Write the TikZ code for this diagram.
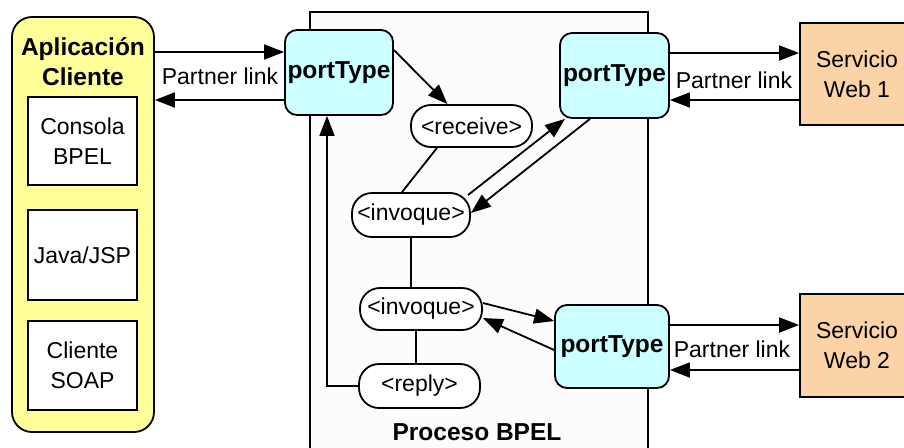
\documentclass[tikz,border=0pt]{standalone}
\usepackage{fontspec}
\setmainfont{Liberation Sans}
\usetikzlibrary{arrows.meta,calc}
\definecolor{appyellow}{RGB}{255,255,153}
\definecolor{ptcyan}{RGB}{204,255,255}
\definecolor{wspeach}{RGB}{250,211,166}
\definecolor{bpelbg}{RGB}{252,252,252}
\tikzset{
  txt/.style={font=\fontsize{23}{30}\selectfont, align=center, inner sep=0pt},
  btxt/.style={font=\fontsize{24.5}{30}\selectfont\bfseries, align=center, inner sep=0pt},
  appbox/.style={draw, line width=1.8pt, fill=appyellow, rounded corners=20pt, minimum width=142pt, minimum height=415pt, inner sep=0pt},
  inbox/.style={draw, line width=1.8pt, fill=white, minimum width=109pt, inner sep=0pt, txt},
  ptbox/.style={draw, line width=1.8pt, fill=ptcyan, rounded corners=12pt, inner sep=0pt, btxt},
  wsbox/.style={draw, line width=1.8pt, fill=wspeach, minimum width=114pt, inner sep=0pt, txt},
  act/.style={draw, line width=1.8pt, fill=white, rounded corners=20pt, inner sep=0pt, txt},
  bpelbox/.style={draw, line width=1.8pt, fill=bpelbg, minimum width=338pt, minimum height=448pt, inner sep=0pt},
  arr/.style={line width=1.8pt, -{Triangle[length=20pt,width=15pt]}},
  ln/.style={line width=1.8pt},
}
\begin{document}
\begin{tikzpicture}[x=1pt,y=-1pt]
\useasboundingbox[fill=white] (0,0) rectangle (904,447);
% BPEL process box
\node[bpelbox] (bpel) at (479,236) {};
\node[btxt] (bpeltitle) at (477,432) {Proceso BPEL};
% client application
\node[appbox] (app) at (83,224.5) {};
\node[btxt] (apptitle) at (83,62) {Aplicación\\Cliente};
\node[inbox, minimum height=88pt] (consola) at (82.5,141) {Consola\\BPEL};
\node[inbox, minimum height=90pt] (java) at (82.5,255) {Java/JSP};
\node[inbox, minimum height=89pt] (soap) at (82.5,365.5) {Cliente\\SOAP};
% port types
\node[ptbox, minimum width=108pt, minimum height=85pt] (pt1) at (339,72.5) {portType};
\node[ptbox, minimum width=109pt, minimum height=85pt] (pt2) at (614.5,75.5) {portType};
\node[ptbox, minimum width=114pt, minimum height=83pt] (pt3) at (612,346.5) {portType};
% web services
\node[wsbox, minimum height=102pt] (ws1) at (857,74) {Servicio\\Web 1};
\node[wsbox, minimum height=103pt] (ws2) at (857,345.5) {Servicio\\Web 2};
% activities
\node[act, minimum width=121pt, minimum height=42pt] (receive) at (471.5,126) {<receive>};
\node[act, minimum width=118pt, minimum height=44pt] (inv1) at (411,215) {<invoque>};
\node[act, minimum width=122pt, minimum height=42pt] (inv2) at (421,309) {<invoque>};
\node[act, minimum width=121pt, minimum height=44pt] (reply) at (419.5,386) {<reply>};
% partner link labels
\node[txt] (pl1) at (220,76) {Partner link};
\node[txt] (pl2) at (734,80) {Partner link};
\node[txt] (pl3) at (732,349) {Partner link};
% client <-> pt1
\draw[arr] (app.east |- 0,52) -- (pt1.west |- 0,52);
\draw[arr] (pt1.west |- 0,100) -- (app.east |- 0,100);
% pt1 -> receive
\draw[arr] (pt1.east |- 0,50) -- ([xshift=-24pt]receive.north);
% receive -- inv1
\draw[ln] ([xshift=-34.5pt]receive.south) -- ([xshift=-9pt]inv1.north);
% inv1 <-> pt2
\draw[arr] ([xshift=-3pt,yshift=-3pt]inv1.north east) -- ([xshift=-49.5pt]pt2.south);
\draw[arr] ([xshift=-24.5pt]pt2.south) -- ([yshift=2pt]inv1.east);
% inv1 -- inv2
\draw[ln] (inv1.south) -- (inv1.south |- inv2.north);
% inv2 <-> pt3
\draw[arr] ([yshift=6pt]inv2.east) -- (pt3.west |- 0,321);
\draw[arr] (pt3.west |- 0,350) -- ([yshift=-9pt]inv2.east);
% inv2 -- reply
\draw[ln] ([xshift=-5pt]inv2.south) -- ([xshift=-3.5pt]reply.north);
% reply -> pt1
\draw[arr] (reply.west) -| ([xshift=-12pt]pt1.south);
% pt2 <-> ws1
\draw[arr] (pt2.east |- 0,53) -- (ws1.west |- 0,53);
\draw[arr] (ws1.west |- 0,100) -- (pt2.east |- 0,100);
% pt3 <-> ws2
\draw[arr] (pt3.east |- 0,325) -- (ws2.west |- 0,325);
\draw[arr] (ws2.west |- 0,370) -- (pt3.east |- 0,370);
\end{tikzpicture}
\end{document}
